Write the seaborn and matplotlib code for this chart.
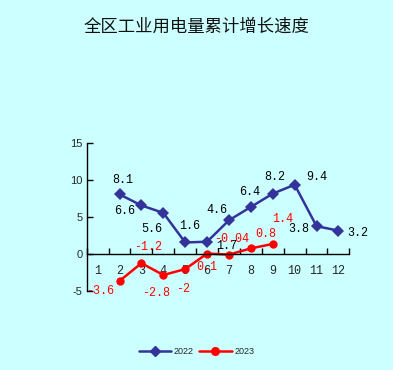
import numpy as np
import pandas as pd
import matplotlib
matplotlib.use("Agg")
import matplotlib.pyplot as plt
import seaborn as sns
from matplotlib.lines import Line2D

# ---- data ----
months = list(range(1, 13))
month_labels = [str(m) for m in months]
vals_2022 = [np.nan, 8.1, 6.6, 5.6, 1.6, 1.7, 4.6, 6.4, 8.2, 9.4, 3.8, 3.2]
vals_2023 = [np.nan, -3.6, -1.2, -2.8, -2.0, 0.1, -0.04, 0.8, 1.4, np.nan, np.nan, np.nan]
series_names = ["2022", "2023"]
title = "全区工业用电量累计增长速度"
y_ticks = [-5, 0, 5, 10, 15]

# label offsets (pixels) as they appear in the reference
off_2022 = [None, (3, 14), (-17, -6), (-12, -16), (4, 16), (20, -4), (-12, 10),
            (-1, 15), (2, 17), (22, 8), (-18, -3), (19, -2)]
off_2023 = [None, (-19, -10), (7, 16), (-7, -18), (-2, -20), (0, -13), (3, 16),
            (15, 14), (10, 25), None, None, None]

df = pd.DataFrame({
    "month": months * 2,
    "value": vals_2022 + vals_2023,
    "year": [series_names[0]] * 12 + [series_names[1]] * 12,
}).dropna()

bg = "#CCFFFF"
blue = "#333399"
red = "#FF0000"

sns.set_theme(style="white")
plt.rcParams["font.family"] = ["Noto Sans CJK SC", "DejaVu Sans"]
plt.rcParams["axes.unicode_minus"] = False

fig = plt.figure(figsize=(3.93, 3.70), dpi=100, facecolor=bg)
ax = fig.add_axes([0.2206, 0.2127, 0.889 - 0.2206, 0.6127 - 0.2127])
ax.set_facecolor(bg)

sns.lineplot(data=df, x="month", y="value", hue="year", style="year",
             palette={"2022": blue, "2023": red},
             markers={"2022": "D", "2023": "o"}, dashes=False,
             markersize=6, linewidth=1.8, markeredgewidth=0,
             ax=ax, legend=False)

ax.set_xlim(0.5, 12.5)
ax.set_ylim(-5, 15)
ax.set_xlabel("")
ax.set_ylabel("")

for s in ["top", "right"]:
    ax.spines[s].set_visible(False)
ax.spines["left"].set_color("black")
ax.spines["left"].set_linewidth(1.0)
ax.spines["bottom"].set_color("black")
ax.spines["bottom"].set_linewidth(1.0)
ax.spines["bottom"].set_position(("data", 0))

ax.set_yticks(y_ticks)
ax.set_yticklabels([str(t) for t in y_ticks], family="Liberation Sans", fontsize=8)
ax.tick_params(axis="y", direction="in", length=4, width=1, color="black", pad=3, left=True)

ax.set_xticks(np.arange(0.5, 13.0, 1.0))
ax.set_xticklabels([""] * 13)
ax.set_xticks(months, minor=True)
ax.set_xticklabels(month_labels, minor=True, family="Liberation Mono", fontsize=8.5)
ax.tick_params(axis="x", which="major", direction="in", length=4, width=1,
               color="black", bottom=True)
ax.tick_params(axis="x", which="minor", length=0, pad=8, bottom=True)
ax.grid(False)

for m, v, off in zip(months, vals_2022, off_2022):
    if off is None or np.isnan(v):
        continue
    ax.annotate(f"{v:g}", (m, v), xytext=(off[0], off[1]), textcoords="offset pixels",
                ha="center", va="center", family="Liberation Mono", fontsize=8.5,
                color="black")
for m, v, off in zip(months, vals_2023, off_2023):
    if off is None or np.isnan(v):
        continue
    ax.annotate(f"{v:g}", (m, v), xytext=(off[0], off[1]), textcoords="offset pixels",
                ha="center", va="center", family="Liberation Mono", fontsize=8.5,
                color=red)

fig.text(0.5, 0.927, title, ha="center", va="center", fontsize=12.5, color="#111111")

handles = [Line2D([], [], color=blue, marker="D", markersize=5, linewidth=1.8),
           Line2D([], [], color=red, marker="o", markersize=5.5, linewidth=1.8)]
fig.legend(handles, series_names, loc="center", bbox_to_anchor=(0.5, 0.049),
           ncol=2, frameon=False, handlelength=3.6,
           handletextpad=0.3, columnspacing=0.6,
           prop={"family": "Liberation Sans", "size": 6.5})

fig.savefig("out.png", dpi=100, facecolor=bg)
